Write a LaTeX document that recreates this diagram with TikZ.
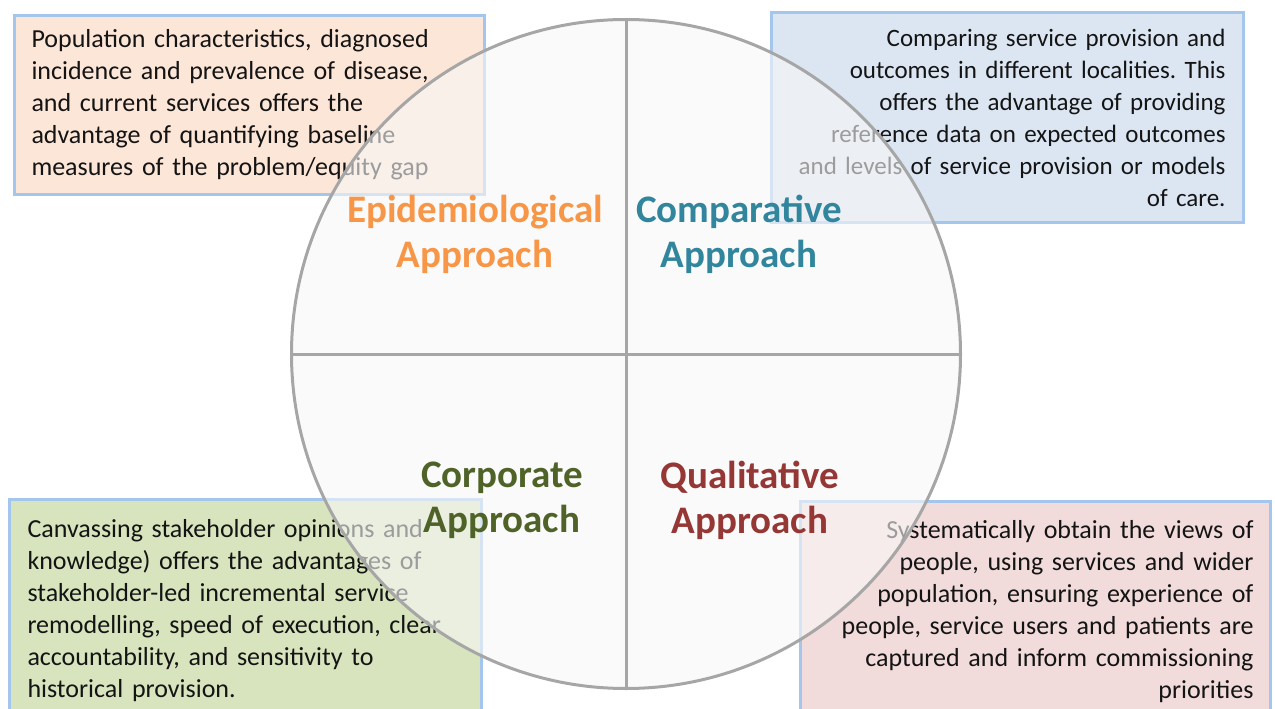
\documentclass[tikz,border=0pt]{standalone}
\usepackage{fontspec}
\setmainfont{Carlito}
\usetikzlibrary{positioning}
\frenchspacing

\definecolor{epiorange}{HTML}{F79646}
\definecolor{compteal}{HTML}{31859C}
\definecolor{corpgreen}{HTML}{4F6228}
\definecolor{qualred}{HTML}{953735}
\definecolor{boxedge}{HTML}{A4C5EC}
\definecolor{wheeledge}{HTML}{A6A6A6}
\definecolor{epifill}{HTML}{FCE6D8}
\definecolor{compfill}{HTML}{DCE6F2}
\definecolor{corpfill}{HTML}{D7E4BD}
\definecolor{qualfill}{HTML}{F2DCDB}

\tikzset{
infobox/.style={rectangle, draw=boxedge, line width=3pt, inner xsep=17pt,
  inner ysep=0pt, text width=436pt, text=black!92,
  font=\fontsize{26}{32}\selectfont},
heading/.style={align=center, inner sep=0pt, font=\fontsize{39}{45}\bfseries\selectfont},
divider/.style={draw=wheeledge, line width=3pt},
}

\begin{document}
\begin{tikzpicture}
    [x=1pt, y=-1pt]

    \useasboundingbox (0,0) rectangle (1275,709);

    % the four text boxes
    \node [infobox, fill=epifill, align=left, anchor=north west,
        minimum width=470pt, minimum height=179pt] (epibox) at (13,14)
    {
        Population characteristics, diagnosed\\
        incidence and prevalence of disease,\\
        and current services offers the\\
        advantage of quantifying baseline\\
        measures of the problem/equity gap
    };

    \node [infobox, fill=compfill, align=right, anchor=north east,
        font=\fontsize{25}{32}\selectfont,
        minimum width=472pt, minimum height=210pt] (compbox) at (1245,11)
    {
        Comparing service provision and\\
        outcomes in different localities. This\\
        offers the advantage of providing\\
        reference data on expected outcomes\\
        and levels of service provision or models\\
        of care.
    };

    \node [infobox, fill=corpfill, align=left, anchor=north west,
        minimum width=472pt, minimum height=222pt] (corpbox) at (8,498)
    {
        Canvassing stakeholder opinions and\\
        knowledge) offers the advantages of\\
        stakeholder-led incremental service\\
        remodelling, speed of execution, clear\\
        accountability, and sensitivity to\\
        historical provision.
    };

    \node [infobox, fill=qualfill, align=right, anchor=north east,
        minimum width=470pt, minimum height=220pt] (qualbox) at (1272,500)
    {
        Systematically obtain the views of\\
        people, using services and wider\\
        population, ensuring experience of\\
        people, service users and patients are\\
        captured and inform commissioning\\
        priorities
    };

    % the circle and its quarters
    \node [circle, draw=wheeledge, line width=3pt, fill=black!3,
        fill opacity=0.6, minimum size=669pt] (wheel) at (626,354) {};
    \draw [divider] (wheel.north) -- (wheel.south);
    \draw [divider] (wheel.west) -- (wheel.east);

    % headings
    \node [heading, text=epiorange] (epi) at (475,234) {Epidemiological\\Approach};
    \node [heading, text=compteal] (comp) at (739,234) {Comparative\\Approach};
    \node [heading, text=corpgreen] (corp) at (502,500) {Corporate\\Approach};
    \node [heading, text=qualred] (qual) at (750,500) {Qualitative\\Approach};

\end{tikzpicture}
\end{document}
